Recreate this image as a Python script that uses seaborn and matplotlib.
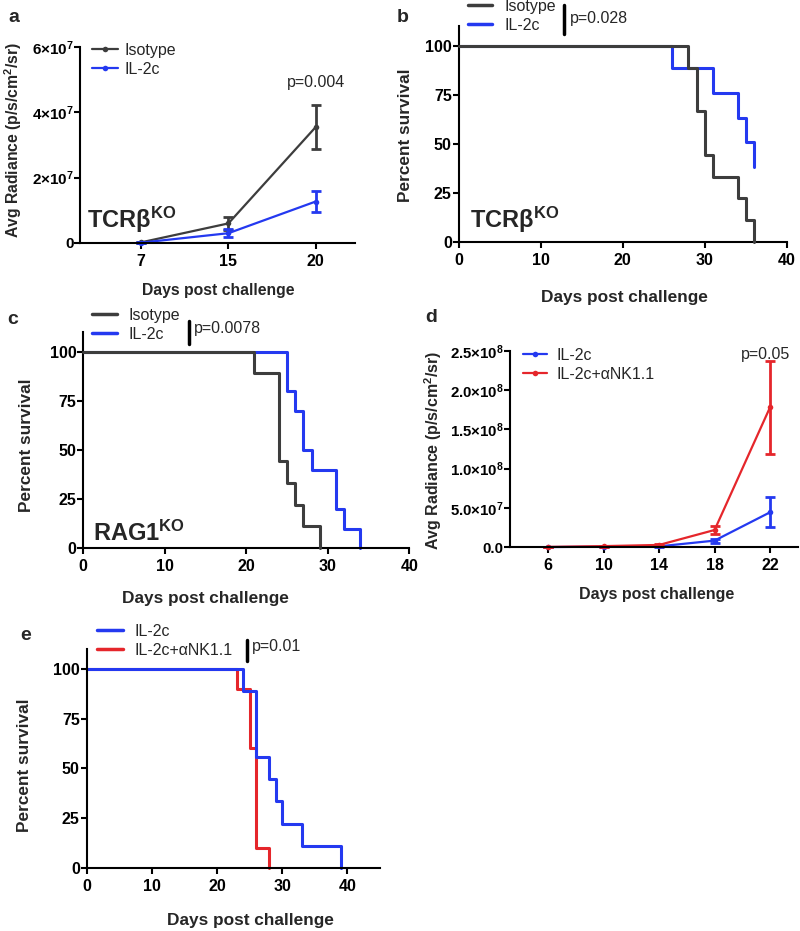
import numpy as np
import pandas as pd
import seaborn as sns
import matplotlib.pyplot as plt
from matplotlib.lines import Line2D

# ---- data ----
# a: tumour radiance, TCRb KO
a_days = [7, 15, 20]
a_iso_mean = [0.2e6, 6.0e6, 3.55e7]
a_iso_sem = [0.2e6, 2.0e6, 6.8e6]
a_il2_mean = [0.1e6, 3.0e6, 1.27e7]
a_il2_sem = [0.1e6, 1.2e6, 3.2e6]

# b: survival, TCRb KO
b_iso_t = [0, 28, 29, 30, 31, 34, 35, 36]
b_iso_s = [100, 88.9, 66.7, 44.4, 33.3, 22.2, 11.1, 0]
b_il2_t = [0, 26, 31, 34, 35, 36]
b_il2_s = [100, 88.9, 76.2, 63.5, 50.8, 38.1]

# c: survival, RAG1 KO
c_iso_t = [0, 21, 24, 25, 26, 27, 29]
c_iso_s = [100, 88.9, 44.4, 33.3, 22.2, 11.1, 0]
c_il2_t = [0, 25, 26, 27, 28, 31, 32, 34]
c_il2_s = [100, 80, 70, 50, 40, 20, 10, 0]

# d: radiance, IL-2c vs IL-2c + anti-NK1.1
d_days = [6, 10, 14, 18, 22]
d_il2_mean = [0.3e6, 0.8e6, 1.2e6, 8.5e6, 4.45e7]
d_il2_sem = [0.2e6, 0.3e6, 0.5e6, 2.5e6, 1.9e7]
d_nk_mean = [0.5e6, 1.5e6, 3.0e6, 2.2e7, 1.78e8]
d_nk_sem = [0.3e6, 0.5e6, 1.0e6, 5.0e6, 5.9e7]

# e: survival, IL-2c vs IL-2c + anti-NK1.1
e_il2_t = [0, 24, 26, 28, 29, 30, 33, 39]
e_il2_s = [100, 88.9, 55.6, 44.4, 33.3, 22.2, 11.1, 0]
e_nk_t = [0, 23, 25, 26, 28]
e_nk_s = [100, 90, 60, 10, 0]

a_yticks = [0, 2e7, 4e7, 6e7]
a_ylabels = ['0', r'$2{×}10^{7}$', r'$4{×}10^{7}$', r'$6{×}10^{7}$']
d_yticks = [0, 5e7, 1e8, 1.5e8, 2e8, 2.5e8]
d_ylabels = ['0.0', r'$5.0{×}10^{7}$', r'$1.0{×}10^{8}$', r'$1.5{×}10^{8}$',
             r'$2.0{×}10^{8}$', r'$2.5{×}10^{8}$']
surv_yticks = [0, 25, 50, 75, 100]

GRAY = '#3d3d3d'
BLUE = '#2439f0'
RED = '#e5262b'
LEG = 11.5

sns.set_theme(style='ticks')
plt.rcParams['font.family'] = ['Liberation Sans', 'DejaVu Sans']
plt.rcParams['mathtext.fontset'] = 'custom'
plt.rcParams['mathtext.rm'] = 'Liberation Sans:bold'
plt.rcParams['mathtext.it'] = 'Liberation Sans:bold'
plt.rcParams['mathtext.bf'] = 'Liberation Sans:bold'
plt.rcParams['axes.linewidth'] = 1.5
plt.rcParams['axes.edgecolor'] = 'black'

W, H = 800, 931
fig = plt.figure(figsize=(W / 100, H / 100), dpi=100)


def box(l, t, r, b):
    return [l / W, 1 - b / H, (r - l) / W, (b - t) / H]


def fx(x):
    return x / W


def fy(y):
    return 1 - y / H


def style_axes(ax, ypad=1, size=11.5):
    sns.despine(ax=ax)
    ax.tick_params(axis='both', length=4, width=1.5, color='black',
                   labelsize=size, labelcolor='black')
    ax.tick_params(axis='x', pad=4)
    ax.tick_params(axis='y', pad=ypad)
    for lab in ax.get_xticklabels() + ax.get_yticklabels():
        lab.set_fontweight('bold')


def labels(ax, xl, yl, xc, yc, size=12.4):
    ax.set_xlabel(xl, fontsize=size, fontweight='bold', va='center')
    ax.set_ylabel(yl, fontsize=size, fontweight='bold', va='center')
    ax.xaxis.set_label_coords(fx(xc[0]), fy(xc[1]), transform=fig.transFigure)
    ax.yaxis.set_label_coords(fx(yc[0]), fy(yc[1]), transform=fig.transFigure)


def legend(ax, handles, names, x0, x1, xt, ytop, ls=0.25):
    fs = LEG * 100 / 72
    ax.legend(handles, names, loc='upper left', frameon=False, fontsize=LEG,
              bbox_to_anchor=(fx(x0), fy(ytop)), bbox_transform=fig.transFigure,
              borderpad=0, borderaxespad=0, handlelength=(x1 - x0) / fs,
              handletextpad=(xt - x1) / fs, labelspacing=ls)


def radiance(ax, days, mean, sem, color, label):
    pos = np.arange(len(days))
    sns.lineplot(x=pos, y=mean, ax=ax, color=color, lw=1.6, marker='o',
                 markersize=4, markeredgewidth=0, clip_on=False, label=label)
    ax.errorbar(pos, mean, yerr=sem, fmt='none', ecolor=color, elinewidth=2,
                capsize=3.5, capthick=2, clip_on=False)


def survival(ax, t, s, color, label):
    sns.lineplot(x=t, y=s, ax=ax, color=color, lw=2.2, drawstyle='steps-post',
                 clip_on=False, label=label)


def bar_p(x, y0, y1, xt, yt, txt):
    fig.add_artist(Line2D([fx(x), fx(x)], [fy(y0), fy(y1)], color='black',
                          lw=2.5, transform=fig.transFigure))
    fig.text(fx(xt), fy(yt), txt, fontsize=LEG, va='center', ha='left')


def surv_handles(colors):
    return [Line2D([], [], color=c, lw=2.5) for c in colors]


def rad_handles(colors):
    return [Line2D([], [], color=c, lw=1.6, marker='o', markersize=4,
                   markeredgewidth=0) for c in colors]


def ko_label(x, y, txt):
    fig.text(fx(x), fy(y), txt, fontsize=17, fontweight='bold', va='center')


# ---- a ----
ax = fig.add_axes(box(80, 47, 355, 243))
radiance(ax, a_days, a_iso_mean, a_iso_sem, GRAY, 'Isotype')
radiance(ax, a_days, a_il2_mean, a_il2_sem, BLUE, 'IL-2c')
ax.set_xlim(-0.7, 2.45)
ax.set_ylim(0, 6e7)
ax.set_xticks(np.arange(len(a_days)))
ax.set_xticklabels([str(d) for d in a_days])
ax.set_yticks(a_yticks)
ax.set_yticklabels(a_ylabels)
style_axes(ax, ypad=0.5)
for lab in ax.get_yticklabels():
    lab.set_fontsize(11)
labels(ax, 'Days post challenge', 'Avg Radiance (p/s/cm$^{2}$/sr)', (218, 291), (13, 140), size=11.3)
legend(ax, rad_handles([GRAY, BLUE]), ['Isotype', 'IL-2c'], 92, 118, 125, 43)
fig.text(fx(316), fy(82), 'p=0.004', ha='center', va='center', fontsize=LEG)
ko_label(87, 220, 'TCRβ$^{KO}$')

# ---- b ----
ax = fig.add_axes(box(458.7, 26.4, 786.7, 242))
survival(ax, b_iso_t, b_iso_s, GRAY, 'Isotype')
survival(ax, b_il2_t, b_il2_s, BLUE, 'IL-2c')
ax.lines[-1].set_zorder(2)
ax.lines[0].set_zorder(3)
ax.set_xlim(0, 40)
ax.set_ylim(0, 110)
ax.set_xticks([0, 10, 20, 30, 40])
ax.set_yticks(surv_yticks)
style_axes(ax)
labels(ax, 'Days post challenge', 'Percent survival', (624, 298), (406, 135))
legend(ax, surv_handles([GRAY, BLUE]), ['Isotype', 'IL-2c'], 468, 492, 505, -1)
bar_p(564, 5, 34, 570, 19, 'p=0.028')
ko_label(470, 220, 'TCRβ$^{KO}$')

# ---- c ----
ax = fig.add_axes(box(83.3, 332, 409.3, 548.3))
survival(ax, c_iso_t, c_iso_s, GRAY, 'Isotype')
survival(ax, c_il2_t, c_il2_s, BLUE, 'IL-2c')
ax.lines[-1].set_zorder(2)
ax.lines[0].set_zorder(3)
ax.set_xlim(0, 40)
ax.set_ylim(0, 110)
ax.set_xticks([0, 10, 20, 30, 40])
ax.set_yticks(surv_yticks)
style_axes(ax)
labels(ax, 'Days post challenge', 'Percent survival', (205, 598), (27, 445))
legend(ax, surv_handles([GRAY, BLUE]), ['Isotype', 'IL-2c'], 92, 117, 128, 308)
bar_p(189, 321, 344, 194, 328, 'p=0.0078')
ko_label(93, 533, 'RAG1$^{KO}$')

# ---- d ----
ax = fig.add_axes(box(510, 350.7, 798.3, 547.3))
radiance(ax, d_days, d_il2_mean, d_il2_sem, BLUE, 'IL-2c')
radiance(ax, d_days, d_nk_mean, d_nk_sem, RED, 'IL-2c+αNK1.1')
ax.set_xlim(-0.69, 4.51)
ax.set_ylim(0, 2.5e8)
ax.set_xticks(np.arange(len(d_days)))
ax.set_xticklabels([str(d) for d in d_days])
ax.set_yticks(d_yticks)
ax.set_yticklabels(d_ylabels)
style_axes(ax, ypad=0.5)
for lab in ax.get_yticklabels():
    lab.set_fontsize(10.8)
labels(ax, 'Days post challenge', 'Avg Radiance (p/s/cm$^{2}$/sr)', (657, 595), (433, 450), size=11.5)
legend(ax, rad_handles([BLUE, RED]), ['IL-2c', 'IL-2c+αNK1.1'], 523, 547, 557, 348)
fig.text(fx(766), fy(355), 'p=0.05', ha='center', va='center', fontsize=LEG)

# ---- e ----
ax = fig.add_axes(box(86.7, 649, 380, 867.7))
survival(ax, e_nk_t, e_nk_s, RED, 'IL-2c+αNK1.1')
survival(ax, e_il2_t, e_il2_s, BLUE, 'IL-2c')
ax.set_xlim(0, 45)
ax.set_ylim(0, 110)
ax.set_xticks([0, 10, 20, 30, 40])
ax.set_yticks(surv_yticks)
style_axes(ax)
labels(ax, 'Days post challenge', 'Percent survival', (250, 920), (25, 765))
legend(ax, surv_handles([BLUE, RED]), ['IL-2c', 'IL-2c+αNK1.1'], 97, 123, 135, 624)
bar_p(247, 640, 661, 252, 646, 'p=0.01')

# panel letters
for letter, (x, y) in zip('abcde', [(14, 17), (403, 18), (13, 320), (431, 318), (26, 635)]):
    fig.text(fx(x), fy(y), letter, fontsize=14, fontweight='bold', ha='center', va='center')

fig.savefig('out.png', dpi=100)
